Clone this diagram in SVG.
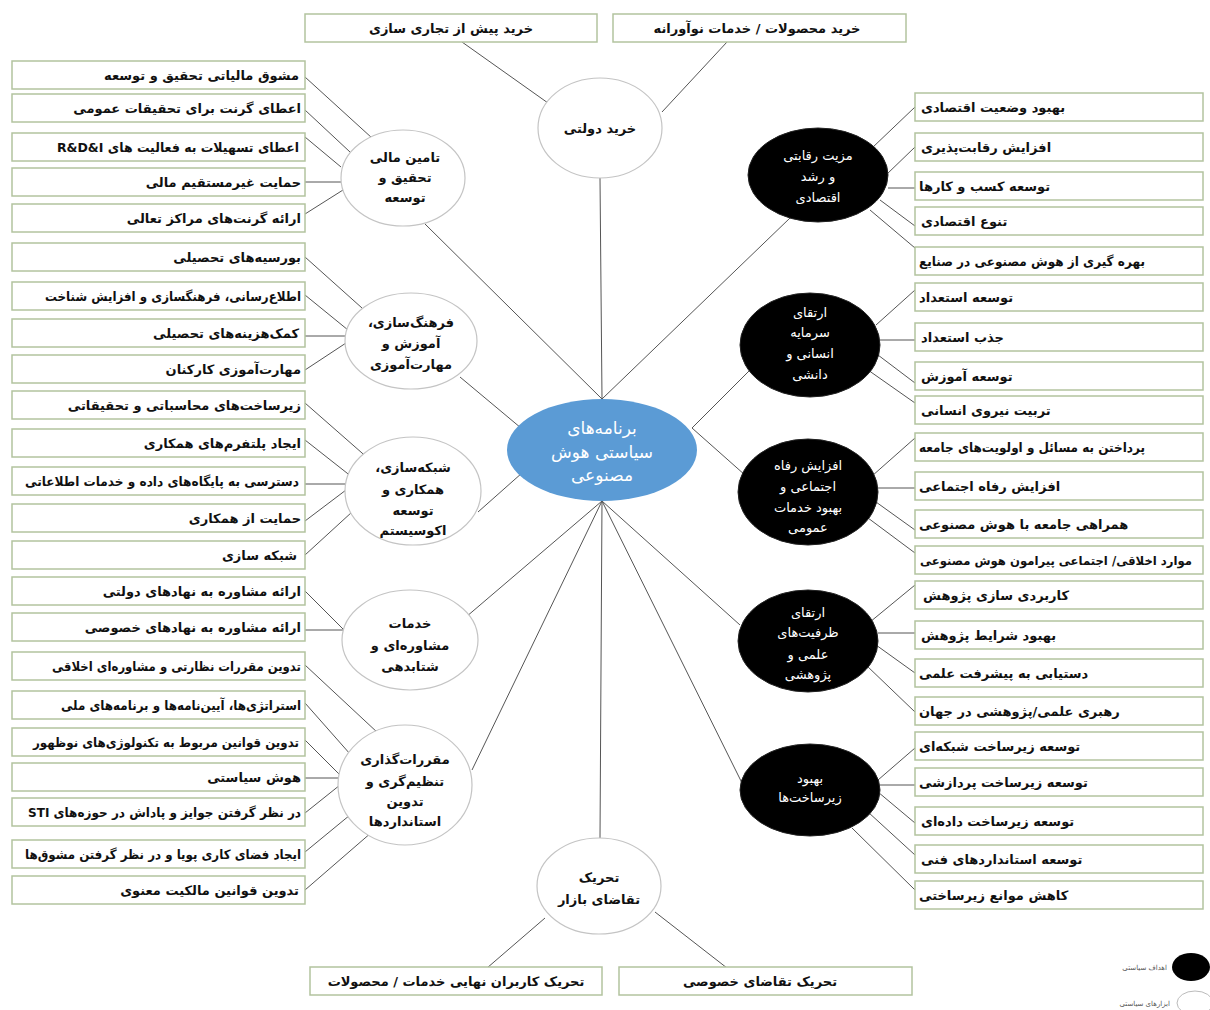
<svg xmlns="http://www.w3.org/2000/svg" width="1210" height="1010" viewBox="0 0 1210 1010">
<style>
text{font-family:"DejaVu Sans","Noto Sans",sans-serif;direction:rtl;}
.box rect{fill:#fff;stroke:#b3c39f;stroke-width:1.5;}
.bt{font-size:13px;font-weight:bold;fill:#111;}
.L{text-anchor:start;}
.R{text-anchor:end;}
.C{text-anchor:middle;}
.wt ellipse{fill:#fff;stroke:#c4c4c4;stroke-width:1.2;}
.bk ellipse{fill:#000;stroke:#222;stroke-width:1;}
.et{font-size:13px;font-weight:bold;fill:#111;text-anchor:middle;}
.ew{font-size:13px;fill:#fff;text-anchor:middle;}
#conn line{stroke:#555;stroke-width:1;}
.lg{font-size:7px;fill:#555;text-anchor:start;}
</style>
<rect width="1210" height="1010" fill="#fff"/>
<g id="conn">
<line x1="462" y1="42" x2="548" y2="103"/>
<line x1="727" y1="42" x2="662" y2="112"/>
<line x1="600" y1="178" x2="602" y2="399"/>
<line x1="425" y1="224" x2="602" y2="399"/>
<line x1="790" y1="218" x2="602" y2="399"/>
<line x1="460" y1="377" x2="521" y2="428"/>
<line x1="478" y1="512" x2="522" y2="473"/>
<line x1="752" y1="368" x2="692" y2="428"/>
<line x1="692" y1="428" x2="754" y2="483"/>
<line x1="602" y1="501" x2="466" y2="617"/>
<line x1="602" y1="501" x2="472" y2="770"/>
<line x1="602" y1="501" x2="600" y2="838"/>
<line x1="602" y1="501" x2="740" y2="625"/>
<line x1="602" y1="501" x2="743" y2="785"/>
<line x1="545" y1="918" x2="487" y2="968"/>
<line x1="655" y1="912" x2="727" y2="968"/>
<line x1="305" y1="77" x2="372" y2="138"/>
<line x1="305" y1="110" x2="350" y2="152"/>
<line x1="305" y1="137" x2="341" y2="167"/>
<line x1="305" y1="182" x2="341" y2="182"/>
<line x1="305" y1="214" x2="343" y2="190"/>
<line x1="305" y1="257" x2="362" y2="308"/>
<line x1="305" y1="295" x2="348" y2="330"/>
<line x1="305" y1="336" x2="345" y2="336"/>
<line x1="305" y1="370" x2="346" y2="343"/>
<line x1="305" y1="403" x2="370" y2="460"/>
<line x1="305" y1="440" x2="352" y2="477"/>
<line x1="305" y1="484" x2="347" y2="484"/>
<line x1="305" y1="521" x2="346" y2="490"/>
<line x1="305" y1="555" x2="352" y2="512"/>
<line x1="305" y1="591" x2="344" y2="630"/>
<line x1="305" y1="630" x2="344" y2="630"/>
<line x1="305" y1="665" x2="393" y2="747"/>
<line x1="305" y1="703" x2="358" y2="763"/>
<line x1="305" y1="740" x2="340" y2="775"/>
<line x1="305" y1="778" x2="339" y2="778"/>
<line x1="305" y1="813" x2="340" y2="785"/>
<line x1="305" y1="852" x2="350" y2="815"/>
<line x1="305" y1="890" x2="372" y2="832"/>
<line x1="872" y1="148" x2="915" y2="107"/>
<line x1="886" y1="175" x2="915" y2="147"/>
<line x1="888" y1="188" x2="915" y2="188"/>
<line x1="880" y1="200" x2="915" y2="226"/>
<line x1="870" y1="210" x2="915" y2="248"/>
<line x1="876" y1="325" x2="915" y2="290"/>
<line x1="880" y1="340" x2="915" y2="340"/>
<line x1="878" y1="355" x2="915" y2="383"/>
<line x1="868" y1="370" x2="915" y2="403"/>
<line x1="872" y1="476" x2="915" y2="438"/>
<line x1="878" y1="488" x2="915" y2="488"/>
<line x1="876" y1="502" x2="915" y2="530"/>
<line x1="868" y1="518" x2="915" y2="553"/>
<line x1="870" y1="622" x2="915" y2="585"/>
<line x1="878" y1="633" x2="915" y2="633"/>
<line x1="876" y1="645" x2="915" y2="673"/>
<line x1="866" y1="665" x2="915" y2="712"/>
<line x1="878" y1="780" x2="915" y2="748"/>
<line x1="880" y1="785" x2="915" y2="785"/>
<line x1="878" y1="792" x2="915" y2="823"/>
<line x1="868" y1="812" x2="915" y2="855"/>
<line x1="852" y1="828" x2="915" y2="890"/>
</g>

<g id="center"><ellipse cx="602" cy="450" rx="95" ry="51" fill="#5b9bd5"/>
<text x="602" y="434" style="font-size:17px;fill:#fff;text-anchor:middle">برنامه&#8204;های</text>
<text x="602" y="458" style="font-size:17px;fill:#fff;text-anchor:middle">سیاستی هوش</text>
<text x="602" y="481" style="font-size:17px;fill:#fff;text-anchor:middle">مصنوعی</text></g>

<g id="e-kharid" class="wt"><ellipse cx="600" cy="128" rx="62" ry="50"/><text class="et" x="600" y="133">خرید دولتی</text></g>
<g id="e-tamin" class="wt"><ellipse cx="403" cy="178" rx="62" ry="48"/><text class="et" x="405" y="162">تامین مالی</text><text class="et" x="405" y="182">تحقیق و</text><text class="et" x="405" y="202">توسعه</text></g>
<g id="e-farhang" class="wt"><ellipse cx="411" cy="341" rx="66" ry="48"/><text class="et" x="411" y="327">فرهنگ&#8204;سازی،</text><text class="et" x="411" y="348">آموزش و</text><text class="et" x="411" y="369">مهارت&#8204;آموزی</text></g>
<g id="e-shabake" class="wt"><ellipse cx="413" cy="491" rx="68" ry="54"/><text class="et" x="413" y="472">شبکه&#8204;سازی،</text><text class="et" x="413" y="494">همکاری و</text><text class="et" x="413" y="515">توسعه</text><text class="et" x="413" y="535">اکوسیستم</text></g>
<g id="e-khadamat" class="wt"><ellipse cx="410" cy="640" rx="68" ry="50"/><text class="et" x="410" y="628">خدمات</text><text class="et" x="410" y="650">مشاوره&#8204;ای و</text><text class="et" x="410" y="671">شتابدهی</text></g>
<g id="e-moqarrarat" class="wt"><ellipse cx="405" cy="785" rx="67" ry="60"/><text class="et" x="405" y="764">مقررات&#8204;گذاری</text><text class="et" x="405" y="786">تنظیم&#8204;گری و</text><text class="et" x="405" y="806">تدوین</text><text class="et" x="405" y="826">استانداردها</text></g>
<g id="e-tahrik" class="wt"><ellipse cx="599" cy="886" rx="62" ry="48"/><text class="et" x="599" y="882">تحریک</text><text class="et" x="599" y="904">تقاضای بازار</text></g>

<g id="b-mazit" class="bk"><ellipse cx="818" cy="175" rx="70" ry="47"/><text class="ew" x="818" y="160">مزیت رقابتی</text><text class="ew" x="818" y="181">و رشد</text><text class="ew" x="818" y="202">اقتصادی</text></g>
<g id="b-sarmaye" class="bk"><ellipse cx="810" cy="345" rx="70" ry="52"/><text class="ew" x="810" y="317">ارتقای</text><text class="ew" x="810" y="337">سرمایه</text><text class="ew" x="810" y="358">انسانی و</text><text class="ew" x="810" y="379">دانشی</text></g>
<g id="b-refah" class="bk"><ellipse cx="808" cy="492" rx="70" ry="53"/><text class="ew" x="808" y="470">افزایش رفاه</text><text class="ew" x="808" y="491">اجتماعی و</text><text class="ew" x="808" y="512">بهبود خدمات</text><text class="ew" x="808" y="532">عمومی</text></g>
<g id="b-zarfiat" class="bk"><ellipse cx="808" cy="641" rx="70" ry="51"/><text class="ew" x="808" y="617">ارتقای</text><text class="ew" x="808" y="637">ظرفیت&#8204;های</text><text class="ew" x="808" y="659">علمی و</text><text class="ew" x="808" y="679">پژوهشی</text></g>
<g id="b-zirsakht" class="bk"><ellipse cx="810" cy="790" rx="70" ry="46"/><text class="ew" x="810" y="783">بهبود</text><text class="ew" x="810" y="802">زیرساخت&#8204;ها</text></g>

<g id="top-boxes" class="box">
<g id="t1"><rect x="305" y="14" width="292" height="28"/><text class="bt C" x="451" y="33">خرید پیش از تجاری سازی</text></g>
<g id="t2"><rect x="613" y="14" width="293" height="28"/><text class="bt C" x="757" y="33">خرید محصولات / خدمات نوآورانه</text></g>
<g id="bt1"><rect x="310" y="967" width="292" height="28"/><text class="bt C" x="456" y="986">تحریک کاربران نهایی خدمات / محصولات</text></g>
<g id="bt2"><rect x="619" y="967" width="293" height="28"/><text class="bt C" x="760" y="986">تحریک تقاضای خصوصی</text></g>
</g>

<g id="left-boxes" class="box">
<g id="l1"><rect x="12" y="61" width="293" height="28"/><text class="bt L" x="299" y="80">مشوق مالیاتی تحقیق و توسعه</text></g>
<g id="l2"><rect x="12" y="94" width="293" height="28"/><text class="bt L" x="301" y="113">اعطای گرنت برای تحقیقات عمومی</text></g>
<g id="l3"><rect x="12" y="133" width="293" height="28"/><text class="bt L" x="299" y="152" textLength="242" lengthAdjust="spacingAndGlyphs">اعطای تسهیلات به فعالیت های R&amp;D&amp;I</text></g>
<g id="l4"><rect x="12" y="168" width="293" height="28"/><text class="bt L" x="301" y="187">حمایت غیرمستقیم مالی</text></g>
<g id="l5"><rect x="12" y="204" width="293" height="28"/><text class="bt L" x="301" y="223">ارائه گرنت&#8204;های مراکز تعالی</text></g>
<g id="l6"><rect x="12" y="243" width="293" height="28"/><text class="bt L" x="301" y="262">بورسیه&#8204;های تحصیلی</text></g>
<g id="l7"><rect x="12" y="282" width="293" height="28"/><text class="bt L" x="301" y="301" textLength="256" lengthAdjust="spacingAndGlyphs">اطلاع&#8204;رسانی، فرهنگسازی و افزایش شناخت</text></g>
<g id="l8"><rect x="12" y="319" width="293" height="28"/><text class="bt L" x="299" y="338">کمک&#8204;هزینه&#8204;های تحصیلی</text></g>
<g id="l9"><rect x="12" y="355" width="293" height="28"/><text class="bt L" x="301" y="374">مهارت&#8204;آموزی کارکنان</text></g>
<g id="l10"><rect x="12" y="391" width="293" height="28"/><text class="bt L" x="301" y="410">زیرساخت&#8204;های محاسباتی و تحقیقاتی</text></g>
<g id="l11"><rect x="12" y="429" width="293" height="28"/><text class="bt L" x="301" y="448">ایجاد پلتفرم&#8204;های همکاری</text></g>
<g id="l12"><rect x="12" y="467" width="293" height="28"/><text class="bt L" x="299" y="486" textLength="274" lengthAdjust="spacingAndGlyphs">دسترسی به پایگاه&#8204;های داده و خدمات اطلاعاتی</text></g>
<g id="l13"><rect x="12" y="504" width="293" height="28"/><text class="bt L" x="301" y="523">حمایت از همکاری</text></g>
<g id="l14"><rect x="12" y="541" width="293" height="28"/><text class="bt L" x="297" y="560">شبکه سازی</text></g>
<g id="l15"><rect x="12" y="577" width="293" height="28"/><text class="bt L" x="301" y="596">ارائه مشاوره به نهادهای دولتی</text></g>
<g id="l16"><rect x="12" y="613" width="293" height="28"/><text class="bt L" x="301" y="632">ارائه مشاوره به نهادهای خصوصی</text></g>
<g id="l17"><rect x="12" y="652" width="293" height="28"/><text class="bt L" x="301" y="671" textLength="249" lengthAdjust="spacingAndGlyphs">تدوین مقررات نظارتی و مشاوره&#8204;ای اخلاقی</text></g>
<g id="l18"><rect x="12" y="691" width="293" height="28"/><text class="bt L" x="301" y="710" textLength="240" lengthAdjust="spacingAndGlyphs">استراتژی&#8204;ها، آیین&#8204;نامه&#8204;ها و برنامه&#8204;های ملی</text></g>
<g id="l19"><rect x="12" y="728" width="293" height="28"/><text class="bt L" x="299" y="747" textLength="266" lengthAdjust="spacingAndGlyphs">تدوین قوانین مربوط به تکنولوژی&#8204;های نوظهور</text></g>
<g id="l20"><rect x="12" y="763" width="293" height="28"/><text class="bt L" x="301" y="782">هوش سیاستی</text></g>
<g id="l21"><rect x="12" y="798" width="293" height="28"/><text class="bt L" x="301" y="817" textLength="273" lengthAdjust="spacingAndGlyphs">در نظر گرفتن جوایز و پاداش در حوزه&#8204;های STI</text></g>
<g id="l22"><rect x="12" y="840" width="293" height="28"/><text class="bt L" x="301" y="859" textLength="276" lengthAdjust="spacingAndGlyphs">ایجاد فضای کاری پویا و در نظر گرفتن مشوق&#8204;ها</text></g>
<g id="l23"><rect x="12" y="876" width="293" height="28"/><text class="bt L" x="299" y="895">تدوین قوانین مالکیت معنوی</text></g>
</g>

<g id="right-boxes" class="box">
<g id="r1"><rect x="915" y="93" width="288" height="28"/><text class="bt R" x="921" y="112">بهبود وضعیت اقتصادی</text></g>
<g id="r2"><rect x="915" y="133" width="288" height="28"/><text class="bt R" x="921" y="152">افزایش رقابت&#8204;پذیری</text></g>
<g id="r3"><rect x="915" y="172" width="288" height="28"/><text class="bt R" x="919" y="191">توسعه کسب و کارها</text></g>
<g id="r4"><rect x="915" y="207" width="288" height="28"/><text class="bt R" x="921" y="226">تنوع اقتصادی</text></g>
<g id="r5"><rect x="915" y="247" width="288" height="28"/><text class="bt R" x="919" y="266" textLength="226" lengthAdjust="spacingAndGlyphs">بهره گیری از هوش مصنوعی در صنایع</text></g>
<g id="r6"><rect x="915" y="283" width="288" height="28"/><text class="bt R" x="919" y="302">توسعه استعداد</text></g>
<g id="r7"><rect x="915" y="323" width="288" height="28"/><text class="bt R" x="921" y="342">جذب استعداد</text></g>
<g id="r8"><rect x="915" y="362" width="288" height="28"/><text class="bt R" x="921" y="381">توسعه آموزش</text></g>
<g id="r9"><rect x="915" y="396" width="288" height="28"/><text class="bt R" x="921" y="415">تربیت نیروی انسانی</text></g>
<g id="r10"><rect x="915" y="433" width="288" height="28"/><text class="bt R" x="919" y="452" textLength="226" lengthAdjust="spacingAndGlyphs">پرداختن به مسائل و اولویت&#8204;های جامعه</text></g>
<g id="r11"><rect x="915" y="472" width="288" height="28"/><text class="bt R" x="919" y="491">افزایش رفاه اجتماعی</text></g>
<g id="r12"><rect x="915" y="510" width="288" height="28"/><text class="bt R" x="919" y="529">همراهی جامعه با هوش مصنوعی</text></g>
<g id="r13"><rect x="915" y="546" width="288" height="28"/><text class="bt R" x="920" y="565" style="font-size:12px" textLength="272" lengthAdjust="spacingAndGlyphs">موارد اخلاقی/ اجتماعی پیرامون هوش مصنوعی</text></g>
<g id="r14"><rect x="915" y="581" width="288" height="28"/><text class="bt R" x="923" y="600">کاربردی سازی پژوهش</text></g>
<g id="r15"><rect x="915" y="621" width="288" height="28"/><text class="bt R" x="921" y="640">بهبود شرایط پژوهش</text></g>
<g id="r16"><rect x="915" y="659" width="288" height="28"/><text class="bt R" x="919" y="678">دستیابی به پیشرفت علمی</text></g>
<g id="r17"><rect x="915" y="697" width="288" height="28"/><text class="bt R" x="919" y="716">رهبری علمی/پژوهشی در جهان</text></g>
<g id="r18"><rect x="915" y="732" width="288" height="28"/><text class="bt R" x="919" y="751">توسعه زیرساخت شبکه&#8204;ای</text></g>
<g id="r19"><rect x="915" y="768" width="288" height="28"/><text class="bt R" x="919" y="787">توسعه زیرساخت پردازشی</text></g>
<g id="r20"><rect x="915" y="807" width="288" height="28"/><text class="bt R" x="921" y="826">توسعه زیرساخت داده&#8204;ای</text></g>
<g id="r21"><rect x="915" y="845" width="288" height="28"/><text class="bt R" x="921" y="864">توسعه استانداردهای فنی</text></g>
<g id="r22"><rect x="915" y="881" width="288" height="28"/><text class="bt R" x="919" y="900">کاهش موانع زیرساختی</text></g>
</g>

<g id="legend">
<ellipse cx="1191" cy="967" rx="19" ry="14" fill="#000"/>
<text class="lg" x="1167" y="970">اهداف سیاستی</text>
<ellipse cx="1195" cy="1003" rx="18" ry="12" fill="#fff" stroke="#bbb" stroke-width="1"/>
<text class="lg" x="1170" y="1006">ابزارهای سیاستی</text>
</g>
</svg>
